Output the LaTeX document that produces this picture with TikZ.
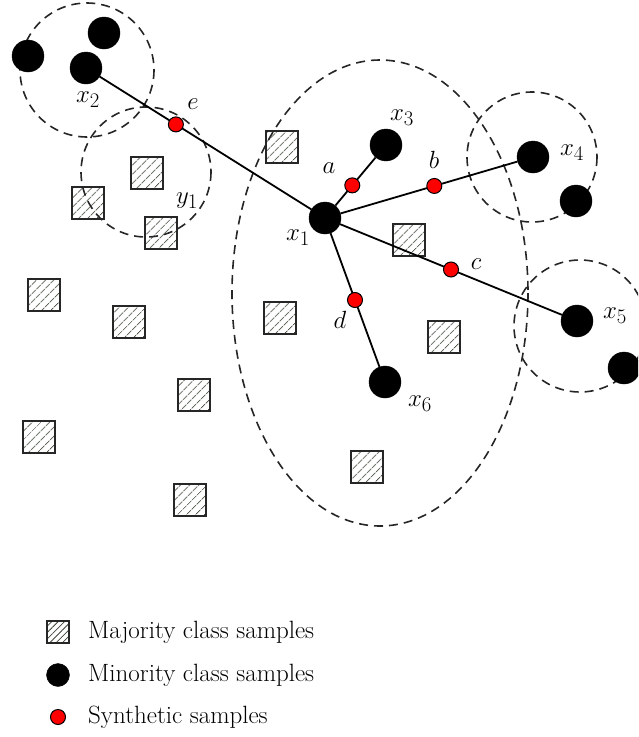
\documentclass[tikz,border=0pt]{standalone}
\usetikzlibrary{patterns.meta}
\definecolor{hatchcol}{RGB}{60,70,55}
\tikzset{
  minor/.style={circle,fill=black,draw=black,minimum size=32pt,inner sep=0pt},
  synth/.style={circle,fill=red,draw=black,line width=1pt,minimum size=15pt,inner sep=0pt},
  major/.style={rectangle,draw=black!85,line width=1.6pt,minimum size=32pt,inner sep=0pt,
    pattern={Lines[angle=45,distance=6.5pt,line width=1.1pt]},pattern color=hatchcol},
  region/.style={draw=black!85,line width=1.6pt,dash pattern=on 9pt off 6pt},
  conn/.style={draw=black,line width=1.8pt},
  lab/.style={font=\fontsize{28}{32}\selectfont,inner sep=0pt},
  legtext/.style={font=\fontsize{25}{29}\selectfont,anchor=west,inner sep=0pt}
}
\begin{document}
\begin{tikzpicture}[x=1pt,y=-1pt]
\useasboundingbox (0,0) rectangle (638,737);
\clip (0,0) rectangle (638,737);
% majority samples
\node[major] (m1) at (282,147) {};
\node[major] (m2) at (147,173) {};
\node[major] (m3) at (88,203) {};
\node[major] (m4) at (161,233) {};
\node[major] (m5) at (409,240) {};
\node[major] (m6) at (44,295) {};
\node[major] (m7) at (129,322) {};
\node[major] (m8) at (280,318) {};
\node[major] (m9) at (444,337) {};
\node[major] (m10) at (194,395) {};
\node[major] (m11) at (39,437) {};
\node[major] (m12) at (367,467) {};
\node[major] (m13) at (190,500) {};
% neighbourhood regions
\draw[region] (87,70) circle[radius=67];
\draw[region] (146,172) circle[radius=65];
\draw[region] (380,293) ellipse[x radius=148,y radius=233];
\draw[region] (532,157) circle[radius=65];
\draw[region] (580,326) circle[radius=66];
% minority samples
\node[minor] (x1) at (325,218) {};
\node[minor] (x2) at (86,68) {};
\node[minor] (x2a) at (28,56) {};
\node[minor] (x2b) at (104,33) {};
\node[minor] (x3) at (386,145) {};
\node[minor] (x4) at (533,157) {};
\node[minor] (x4a) at (576,201) {};
\node[minor] (x5) at (577,321) {};
\node[minor] (x5a) at (624,368) {};
\node[minor] (x6) at (385,382) {};
% connectors with synthetic samples
\draw[conn] (x2) -- (x1) node[synth,pos=0.36] (e) {};
\draw[conn] (x1) -- (x3) node[synth,pos=0.42] (a) {};
\draw[conn] (x1) -- (x4) node[synth,pos=0.53] (b) {};
\draw[conn] (x1) -- (x5) node[synth,pos=0.5] (c) {};
\draw[conn] (x1) -- (x6) node[synth,pos=0.5] (d) {};
% labels
\node[lab] at (88,100) {$x_2$};
\node[lab] at (193,104) {$e$};
\node[lab] at (187,201) {$y_1$};
\node[lab] at (402,118) {$x_3$};
\node[lab] at (329,168) {$a$};
\node[lab] at (434,160) {$b$};
\node[lab] at (572,153) {$x_4$};
\node[lab] at (298,238) {$x_1$};
\node[lab] at (476,264) {$c$};
\node[lab] at (615,316) {$x_5$};
\node[lab] at (340,320) {$d$};
\node[lab] at (420,404) {$x_6$};
% legend
\node[major,minimum size=22pt,line width=1.2pt,pattern={Lines[angle=45,distance=4.5pt,line width=0.8pt]}] (lg1) at (58,632) {};
\node[legtext] at (88,632) {Majority class samples};
\node[minor,minimum size=23pt] (lg2) at (58,675) {};
\node[legtext] at (88,675) {Minority class samples};
\node[synth] (lg3) at (58,717) {};
\node[legtext] at (88,717) {Synthetic samples};
\end{tikzpicture}
\end{document}
